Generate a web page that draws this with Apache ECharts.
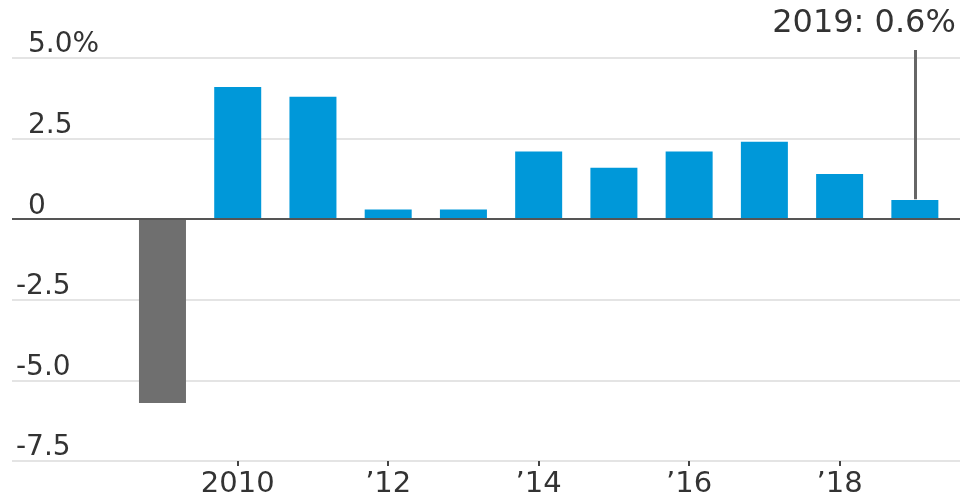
<!DOCTYPE html>
<html>
<head>
<meta charset="utf-8">
<script src="https://cdn.jsdelivr.net/npm/echarts@6/dist/echarts.min.js"></script>
<style>
  html, body { margin: 0; padding: 0; background: #fff; }
  #chart { width: 962px; height: 498px; }
</style>
</head>
<body>
<div id="chart"></div>
<script>
// annual change, percent
const years = [2009, 2010, 2011, 2012, 2013, 2014, 2015, 2016, 2017, 2018, 2019];
const growth = [-5.7, 4.1, 3.8, 0.3, 0.3, 2.1, 1.6, 2.1, 2.4, 1.4, 0.6];

const xTickYears = [2010, 2012, 2014, 2016, 2018];
const xTickLabels = ['2010', '\u201912', '\u201914', '\u201916', '\u201918'];

const calloutYear = 2019;
const calloutText = '2019: 0.6%';

const FONT = 'DejaVu Sans';
const BLUE = '#0098d9';
const GREY = '#6f6f6f';

const chart = echarts.init(document.getElementById('chart'));

const barData = years.map((y, i) => ({
  value: [y, growth[i]],
  itemStyle: { color: growth[i] < 0 ? GREY : BLUE }
}));

// y max a little above 5 so the callout leader fits inside the grid
const Y_MAX = 5.25;

chart.setOption({
  animation: false,
  grid: { left: 12, right: 2, top: 50, bottom: 37, outerBoundsMode: 'none' },
  xAxis: {
    type: 'value',
    min: 2007,
    max: 2019.6,
    splitLine: { show: false },
    axisLine: { show: false, onZero: false },
    axisTick: {
      show: true,
      customValues: xTickYears,
      length: 5,
      lineStyle: { color: '#444', width: 2 }
    },
    axisLabel: {
      customValues: xTickYears,
      formatter: (v) => xTickLabels[xTickYears.indexOf(v)] || '',
      fontFamily: FONT,
      fontSize: 29,
      color: '#333',
      margin: 9
    }
  },
  yAxis: {
    type: 'value',
    min: -7.5,
    max: Y_MAX,
    interval: 2.5,
    axisLine: { show: false },
    axisTick: { show: false },
    splitLine: { showMaxLine: false, lineStyle: { color: '#e4e4e4', width: 2 } },
    axisLabel: {
      inside: true,
      showMaxLabel: false,
      margin: 1,
      align: 'left',
      verticalAlign: 'bottom',
      lineHeight: 26,
      fontFamily: FONT,
      fontSize: 28,
      color: '#333',
      formatter: (v) => {
        if (v > 5) return '';
        let s = v === 0 ? '0' : v.toFixed(1);
        if (v === 5) s += '%';
        return v < 0 ? '{n|' + s + '}' : '{p|' + s + '}';
      },
      rich: {
        p: { fontFamily: FONT, fontSize: 28, color: '#333', padding: [0, 0, 0, 15], lineHeight: 26 },
        n: { fontFamily: FONT, fontSize: 28, color: '#333', padding: [0, 0, 0, 3], lineHeight: 26 }
      }
    }
  },
  series: [{
    type: 'bar',
    barWidth: 47,
    data: barData,
    markLine: {
      silent: true,
      symbol: 'none',
      label: { show: false },
      data: [
        { yAxis: 0, lineStyle: { color: '#555', width: 2, type: 'solid' } },
        [
          { coord: [calloutYear, Y_MAX], lineStyle: { color: '#666', width: 3, type: 'solid' } },
          { coord: [calloutYear, 0.62] }
        ]
      ]
    },
    markPoint: {
      silent: true,
      symbol: 'circle',
      symbolSize: 0,
      data: [{ coord: [calloutYear, Y_MAX] }],
      label: {
        show: true,
        formatter: calloutText,
        position: [41, -10],
        align: 'right',
        verticalAlign: 'bottom',
        fontFamily: FONT,
        fontSize: 32,
        color: '#333'
      }
    }
  }]
});
</script>
</body>
</html>
